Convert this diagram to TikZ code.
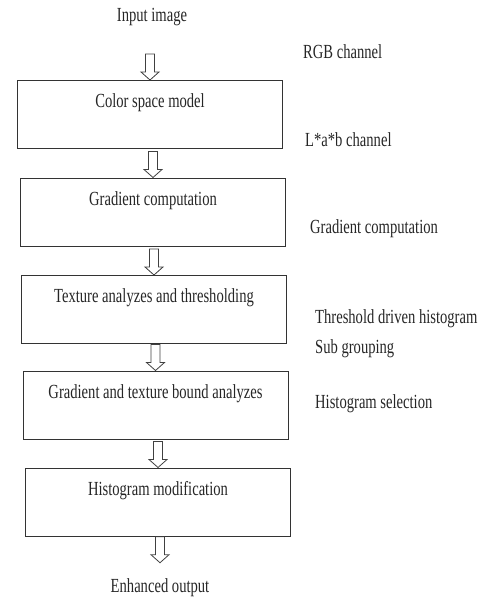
\documentclass[tikz,border=0pt]{standalone}
\usepackage{fontspec}
\setmainfont{Liberation Serif}[FakeStretch=0.73]

\begin{document}
\begin{tikzpicture}[x=1pt, y=1pt,
    every node/.style = {font=\fontsize{20}{22}\selectfont, text=black!85,
      inner sep=2pt},
    stage/.style = {draw=black!80, line width=1pt,
      minimum width=265pt, minimum height=68pt,
      label={[anchor=center, yshift=-23pt]north:#1}},
    note/.style = {anchor=west, inner xsep=0pt},
    hollowarrow/.pic = {\draw[black!75, line width=0.8pt]
      (-4.5,26) -- (4.5,26) -- (4.5,8) -- (9,8) -- (0,0)
      -- (-9,8) -- (-4.5,8) -- cycle;}]
    \useasboundingbox (0,0) rectangle (483,-598);

    \node (in) at (152,-17) {Input image};
    \node[stage=Color space model] (cs) at (150,-114.5) {};
    \node[stage=Gradient computation] (gc) at (153,-212) {};
    \node[stage=Texture analyzes and thresholding] (ta) at (154,-309.5) {};
    \node[stage=Gradient and texture bound analyzes] (gt) at (155.5,-405) {};
    \node[stage=Histogram modification] (hm) at (158,-502) {};
    \node (out) at (160,-588) {Enhanced output};

    \node[note] (rgb) at (303,-52) {RGB channel};
    \node[note] (lab) at (305,-140) {L*a*b channel};
    \node[note] (gcn) at (310,-229) {Gradient computation};
    \node[note] (thr) at (315,-319) {Threshold driven histogram};
    \node[note] (sub) at (315,-349) {Sub grouping};
    \node[note] (sel) at (315,-404) {Histogram selection};

    \path (in) -- (cs.north) pic[pos=1]{hollowarrow};
    \path (cs) -- (gc.north) pic[pos=1]{hollowarrow};
    \path (gc) -- (ta.north) pic[pos=1]{hollowarrow};
    \path (ta) -- (gt.north) pic[pos=1]{hollowarrow};
    \path (gt) -- (hm.north) pic[pos=1]{hollowarrow};
    \path (hm) -- ([yshift=14pt]out.north) pic[pos=1]{hollowarrow};
  \end{tikzpicture}
\end{document}
